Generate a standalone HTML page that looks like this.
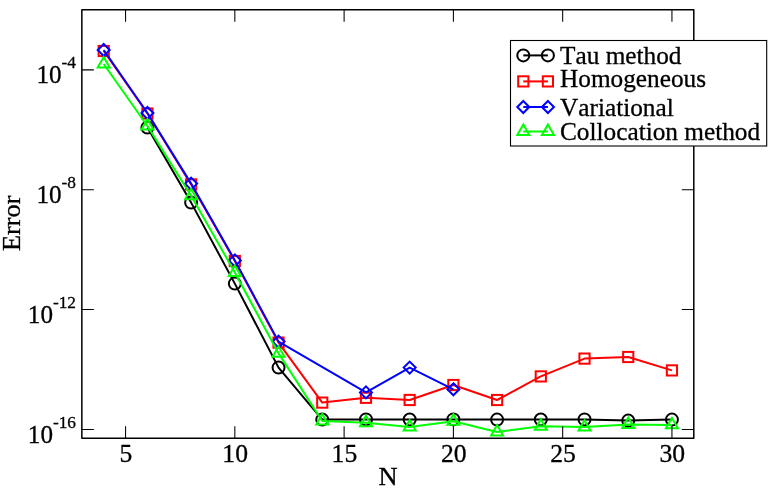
<!DOCTYPE html>
<html><head><meta charset="utf-8"><title>Error vs N</title>
<style>html,body{margin:0;padding:0;background:#fff}svg{display:block}text{font-family:"Liberation Serif",serif;fill:#000;font-kerning:none;font-variant-ligatures:none;stroke:#000;stroke-width:0.3px}</style></head><body>
<svg width="770" height="490" viewBox="0 0 770 490">
<rect x="0" y="0" width="770" height="490" fill="#ffffff"/>
<polyline points="147.42,127.60 191.13,202.60 234.84,283.60 278.55,367.60 322.26,419.60 365.97,419.40 409.68,419.50 453.39,419.40 497.10,419.60 540.81,419.50 584.52,419.40 628.23,420.60 671.94,419.60" fill="none" stroke="#000000" stroke-width="2.0" stroke-linejoin="round"/>
<circle cx="147.42" cy="127.60" r="6.0" fill="none" stroke="#000000" stroke-width="2.0"/>
<circle cx="191.13" cy="202.60" r="6.0" fill="none" stroke="#000000" stroke-width="2.0"/>
<circle cx="234.84" cy="283.60" r="6.0" fill="none" stroke="#000000" stroke-width="2.0"/>
<circle cx="278.55" cy="367.60" r="6.0" fill="none" stroke="#000000" stroke-width="2.0"/>
<circle cx="322.26" cy="419.60" r="6.0" fill="none" stroke="#000000" stroke-width="2.0"/>
<circle cx="365.97" cy="419.40" r="6.0" fill="none" stroke="#000000" stroke-width="2.0"/>
<circle cx="409.68" cy="419.50" r="6.0" fill="none" stroke="#000000" stroke-width="2.0"/>
<circle cx="453.39" cy="419.40" r="6.0" fill="none" stroke="#000000" stroke-width="2.0"/>
<circle cx="497.10" cy="419.60" r="6.0" fill="none" stroke="#000000" stroke-width="2.0"/>
<circle cx="540.81" cy="419.50" r="6.0" fill="none" stroke="#000000" stroke-width="2.0"/>
<circle cx="584.52" cy="419.40" r="6.0" fill="none" stroke="#000000" stroke-width="2.0"/>
<circle cx="628.23" cy="420.60" r="6.0" fill="none" stroke="#000000" stroke-width="2.0"/>
<circle cx="671.94" cy="419.60" r="6.0" fill="none" stroke="#000000" stroke-width="2.0"/>
<polyline points="103.71,51.00 147.42,113.50 191.13,184.40 234.84,261.00 278.55,342.60 322.26,402.60 365.97,397.80 409.68,400.00 453.39,385.00 497.10,400.00 540.81,376.40 584.52,358.60 628.23,357.00 671.94,370.40" fill="none" stroke="#ff0000" stroke-width="2.0" stroke-linejoin="round"/>
<rect x="98.61" y="45.90" width="10.20" height="10.20" fill="none" stroke="#ff0000" stroke-width="2.0"/>
<rect x="142.32" y="108.40" width="10.20" height="10.20" fill="none" stroke="#ff0000" stroke-width="2.0"/>
<rect x="186.03" y="179.30" width="10.20" height="10.20" fill="none" stroke="#ff0000" stroke-width="2.0"/>
<rect x="229.74" y="255.90" width="10.20" height="10.20" fill="none" stroke="#ff0000" stroke-width="2.0"/>
<rect x="273.45" y="337.50" width="10.20" height="10.20" fill="none" stroke="#ff0000" stroke-width="2.0"/>
<rect x="317.16" y="397.50" width="10.20" height="10.20" fill="none" stroke="#ff0000" stroke-width="2.0"/>
<rect x="360.87" y="392.70" width="10.20" height="10.20" fill="none" stroke="#ff0000" stroke-width="2.0"/>
<rect x="404.58" y="394.90" width="10.20" height="10.20" fill="none" stroke="#ff0000" stroke-width="2.0"/>
<rect x="448.29" y="379.90" width="10.20" height="10.20" fill="none" stroke="#ff0000" stroke-width="2.0"/>
<rect x="492.00" y="394.90" width="10.20" height="10.20" fill="none" stroke="#ff0000" stroke-width="2.0"/>
<rect x="535.71" y="371.30" width="10.20" height="10.20" fill="none" stroke="#ff0000" stroke-width="2.0"/>
<rect x="579.42" y="353.50" width="10.20" height="10.20" fill="none" stroke="#ff0000" stroke-width="2.0"/>
<rect x="623.13" y="351.90" width="10.20" height="10.20" fill="none" stroke="#ff0000" stroke-width="2.0"/>
<rect x="666.84" y="365.30" width="10.20" height="10.20" fill="none" stroke="#ff0000" stroke-width="2.0"/>
<polyline points="103.71,50.00 147.42,113.00 191.13,183.60 234.84,260.40 278.55,341.60 365.97,392.40 409.68,367.60 453.39,389.30" fill="none" stroke="#0000ff" stroke-width="2.0" stroke-linejoin="round"/>
<path d="M103.71 44.00L109.71 50.00L103.71 56.00L97.71 50.00Z" fill="none" stroke="#0000ff" stroke-width="2.0"/>
<path d="M147.42 107.00L153.42 113.00L147.42 119.00L141.42 113.00Z" fill="none" stroke="#0000ff" stroke-width="2.0"/>
<path d="M191.13 177.60L197.13 183.60L191.13 189.60L185.13 183.60Z" fill="none" stroke="#0000ff" stroke-width="2.0"/>
<path d="M234.84 254.40L240.84 260.40L234.84 266.40L228.84 260.40Z" fill="none" stroke="#0000ff" stroke-width="2.0"/>
<path d="M278.55 335.60L284.55 341.60L278.55 347.60L272.55 341.60Z" fill="none" stroke="#0000ff" stroke-width="2.0"/>
<path d="M365.97 386.40L371.97 392.40L365.97 398.40L359.97 392.40Z" fill="none" stroke="#0000ff" stroke-width="2.0"/>
<path d="M409.68 361.60L415.68 367.60L409.68 373.60L403.68 367.60Z" fill="none" stroke="#0000ff" stroke-width="2.0"/>
<path d="M453.39 383.30L459.39 389.30L453.39 395.30L447.39 389.30Z" fill="none" stroke="#0000ff" stroke-width="2.0"/>
<polyline points="103.71,64.00 147.42,126.00 191.13,195.80 234.84,272.50 278.55,353.40 322.26,421.00 365.97,422.80 409.68,427.00 453.39,421.30 497.10,432.00 540.81,426.20 584.52,427.10 628.23,424.50 671.94,424.90" fill="none" stroke="#00ff00" stroke-width="2.0" stroke-linejoin="round"/>
<path d="M103.71 57.07L109.71 67.46L97.71 67.46Z" fill="none" stroke="#00ff00" stroke-width="2.0"/>
<path d="M147.42 119.07L153.42 129.46L141.42 129.46Z" fill="none" stroke="#00ff00" stroke-width="2.0"/>
<path d="M191.13 188.87L197.13 199.26L185.13 199.26Z" fill="none" stroke="#00ff00" stroke-width="2.0"/>
<path d="M234.84 265.57L240.84 275.96L228.84 275.96Z" fill="none" stroke="#00ff00" stroke-width="2.0"/>
<path d="M278.55 346.47L284.55 356.86L272.55 356.86Z" fill="none" stroke="#00ff00" stroke-width="2.0"/>
<path d="M322.26 414.07L328.26 424.46L316.26 424.46Z" fill="none" stroke="#00ff00" stroke-width="2.0"/>
<path d="M365.97 415.87L371.97 426.26L359.97 426.26Z" fill="none" stroke="#00ff00" stroke-width="2.0"/>
<path d="M409.68 420.07L415.68 430.46L403.68 430.46Z" fill="none" stroke="#00ff00" stroke-width="2.0"/>
<path d="M453.39 414.37L459.39 424.76L447.39 424.76Z" fill="none" stroke="#00ff00" stroke-width="2.0"/>
<path d="M497.10 425.07L503.10 435.46L491.10 435.46Z" fill="none" stroke="#00ff00" stroke-width="2.0"/>
<path d="M540.81 419.27L546.81 429.66L534.81 429.66Z" fill="none" stroke="#00ff00" stroke-width="2.0"/>
<path d="M584.52 420.17L590.52 430.56L578.52 430.56Z" fill="none" stroke="#00ff00" stroke-width="2.0"/>
<path d="M628.23 417.57L634.23 427.96L622.23 427.96Z" fill="none" stroke="#00ff00" stroke-width="2.0"/>
<path d="M671.94 417.97L677.94 428.36L665.94 428.36Z" fill="none" stroke="#00ff00" stroke-width="2.0"/>
<path d="M125.56 438.3V426.3M125.56 9.7V21.7M234.84 438.3V426.3M234.84 9.7V21.7M344.11 438.3V426.3M344.11 9.7V21.7M453.39 438.3V426.3M453.39 9.7V21.7M562.67 438.3V426.3M562.67 9.7V21.7M671.94 438.3V426.3M671.94 9.7V21.7M81.85 69.85H93.85M693.8 69.85H681.8M81.85 189.65H93.85M693.8 189.65H681.8M81.85 309.50H93.85M693.8 309.50H681.8M81.85 429.40H93.85M693.8 429.40H681.8" stroke="#000" stroke-width="1.05" fill="none"/>
<rect x="81.85" y="9.7" width="611.95" height="428.60" fill="none" stroke="#000" stroke-width="1.5" stroke-linejoin="round"/>
<text transform="translate(125.86 461.5) scale(1.025 1)" font-size="25" text-anchor="middle">5</text>
<text transform="translate(235.14 461.5) scale(1.025 1)" font-size="25" text-anchor="middle">10</text>
<text transform="translate(344.41 461.5) scale(1.025 1)" font-size="25" text-anchor="middle">15</text>
<text transform="translate(453.69 461.5) scale(1.025 1)" font-size="25" text-anchor="middle">20</text>
<text transform="translate(562.97 461.5) scale(1.025 1)" font-size="25" text-anchor="middle">25</text>
<text transform="translate(672.24 461.5) scale(1.025 1)" font-size="25" text-anchor="middle">30</text>
<text transform="translate(76.0 83.00) scale(1.005 1)" font-size="25" text-anchor="end">10<tspan font-size="17.2" dy="-15.0">-4</tspan></text>
<text transform="translate(76.0 203.00) scale(1.005 1)" font-size="25" text-anchor="end">10<tspan font-size="17.2" dy="-15.0">-8</tspan></text>
<text transform="translate(76.0 323.00) scale(1.005 1)" font-size="25" text-anchor="end">10<tspan font-size="17.2" dy="-15.0">-12</tspan></text>
<text transform="translate(76.0 443.00) scale(1.005 1)" font-size="25" text-anchor="end">10<tspan font-size="17.2" dy="-15.0">-16</tspan></text>
<text transform="translate(388 485) scale(1.06 1.02)" font-size="25" text-anchor="middle">N</text>
<text transform="translate(20.3 223.3) rotate(-90) scale(1.055 0.97)" font-size="25" text-anchor="middle">Error</text>
<rect x="510.5" y="40.5" width="256.2" height="105.5" fill="#fff" stroke="#000" stroke-width="1.1"/>
<path d="M523.3 55.4H547.9" stroke="#000000" stroke-width="2.0" fill="none"/>
<circle cx="523.30" cy="55.40" r="6.0" fill="none" stroke="#000000" stroke-width="2.0"/>
<circle cx="547.90" cy="55.40" r="6.0" fill="none" stroke="#000000" stroke-width="2.0"/>
<text transform="translate(560 63.8) scale(1.012 0.98)" font-size="25">Tau method</text>
<path d="M523.3 81.4H547.9" stroke="#ff0000" stroke-width="2.0" fill="none"/>
<rect x="518.20" y="76.30" width="10.20" height="10.20" fill="none" stroke="#ff0000" stroke-width="2.0"/>
<rect x="542.80" y="76.30" width="10.20" height="10.20" fill="none" stroke="#ff0000" stroke-width="2.0"/>
<text transform="translate(560 86.6) scale(1.012 0.98)" font-size="25">Homogeneous</text>
<path d="M523.3 107H547.9" stroke="#0000ff" stroke-width="2.0" fill="none"/>
<path d="M523.30 101.00L529.30 107.00L523.30 113.00L517.30 107.00Z" fill="none" stroke="#0000ff" stroke-width="2.0"/>
<path d="M547.90 101.00L553.90 107.00L547.90 113.00L541.90 107.00Z" fill="none" stroke="#0000ff" stroke-width="2.0"/>
<text transform="translate(560 115.6) scale(1.012 0.98)" font-size="25">Variational</text>
<path d="M523.3 131.5H547.9" stroke="#00ff00" stroke-width="2.0" fill="none"/>
<path d="M523.30 124.57L529.30 134.96L517.30 134.96Z" fill="none" stroke="#00ff00" stroke-width="2.0"/>
<path d="M547.90 124.57L553.90 134.96L541.90 134.96Z" fill="none" stroke="#00ff00" stroke-width="2.0"/>
<text transform="translate(560 139.9) scale(1.012 0.98)" font-size="25">Collocation method</text>
</svg></body></html>
